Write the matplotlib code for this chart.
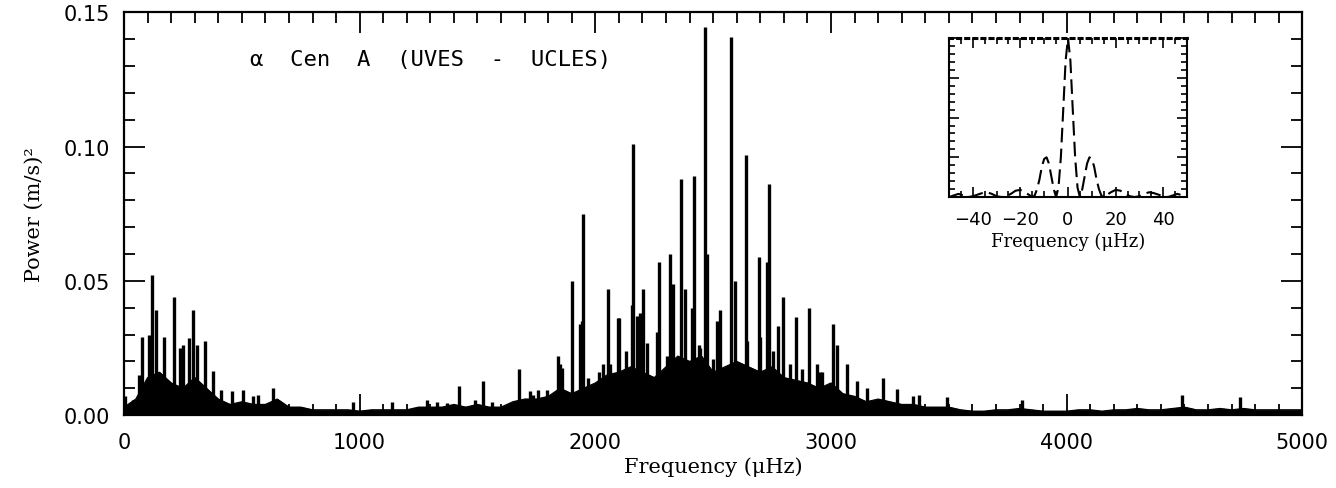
import numpy as np
import matplotlib
matplotlib.use("Agg")
import matplotlib.pyplot as plt
from matplotlib.ticker import MultipleLocator, FormatStrFormatter

# broad "grass" level of the power spectrum, one value every 50 uHz (0..5000)
grass_freq = np.arange(0, 5001, 50)
grass_power = [0.003, 0.006, 0.014, 0.016, 0.012, 0.010, 0.014, 0.010, 0.006, 0.004,
               0.005, 0.004, 0.004, 0.006, 0.003, 0.003, 0.002, 0.002, 0.002, 0.002,
               0.0015, 0.002, 0.002, 0.002, 0.002, 0.003, 0.003, 0.003, 0.004, 0.003,
               0.004, 0.003, 0.003, 0.005, 0.006, 0.006, 0.007, 0.010, 0.008, 0.010,
               0.012, 0.015, 0.016, 0.018, 0.016, 0.014, 0.018, 0.022, 0.020, 0.022,
               0.016, 0.018, 0.020, 0.018, 0.016, 0.018, 0.014, 0.013, 0.012, 0.010,
               0.012, 0.008, 0.007, 0.005, 0.006, 0.005, 0.004, 0.004, 0.003, 0.003,
               0.003, 0.002, 0.0015, 0.0015, 0.002, 0.002, 0.0025, 0.002, 0.0015, 0.0015,
               0.0015, 0.002, 0.002, 0.0015, 0.002, 0.002, 0.0025, 0.002, 0.002, 0.0025,
               0.003, 0.002, 0.002, 0.0025, 0.002, 0.0025, 0.002, 0.002, 0.002, 0.002,
               0.002]

# individual spikes (uHz, (m/s)^2)
peak_freq = [4, 38, 64, 76, 106, 119, 136, 170, 212, 238, 250, 276, 293, 310, 344,
             378, 412, 458, 505, 548, 569, 632, 973, 1137, 1285, 1328, 1371, 1422,
             1490, 1524, 1562, 1676, 1723, 1736, 1757, 1795, 1842, 1850, 1859, 1901,
             1935, 1944, 1948, 1970, 2007, 2016, 2033, 2054, 2063, 2097, 2101, 2131,
             2156, 2161, 2177, 2190, 2203, 2220, 2262, 2271, 2305, 2318, 2330, 2364,
             2381, 2411, 2419, 2440, 2445, 2466, 2475, 2500, 2517, 2530, 2576, 2593,
             2640, 2644, 2695, 2699, 2729, 2738, 2755, 2776, 2797, 2827, 2852, 2878,
             2907, 2941, 2954, 2963, 3009, 3026, 3069, 3111, 3154, 3222, 3281, 3349,
             3374, 3493, 3811, 4491, 4737]
peak_power = [0.007, 0.0055, 0.015, 0.029, 0.030, 0.052, 0.039, 0.029, 0.044, 0.025,
              0.026, 0.0287, 0.039, 0.026, 0.0276, 0.0165, 0.0093, 0.009, 0.0093, 0.007,
              0.0075, 0.010, 0.005, 0.005, 0.0055, 0.005, 0.0045, 0.011, 0.0055, 0.0127,
              0.005, 0.017, 0.009, 0.0075, 0.0093, 0.0093, 0.022, 0.019, 0.0175, 0.050,
              0.034, 0.035, 0.0747, 0.014, 0.010, 0.016, 0.019, 0.047, 0.019, 0.036,
              0.036, 0.024, 0.041, 0.101, 0.037, 0.038, 0.047, 0.027, 0.031, 0.057,
              0.022, 0.060, 0.049, 0.088, 0.047, 0.040, 0.089, 0.026, 0.025, 0.1444,
              0.060, 0.021, 0.035, 0.039, 0.1407, 0.050, 0.097, 0.0276, 0.059, 0.029,
              0.057, 0.086, 0.024, 0.033, 0.044, 0.019, 0.0366, 0.017, 0.040, 0.019,
              0.016, 0.016, 0.034, 0.026, 0.019, 0.0127, 0.010, 0.014, 0.0098, 0.007,
              0.0075, 0.0067, 0.0056, 0.0075, 0.0067]

# spectral window (inset), normalised
win_freq = [-50, -48, -46, -44, -42, -40, -38, -36, -34, -32, -30, -28, -26, -24, -22,
            -20, -18, -16, -15, -14, -13, -12, -11, -10, -9, -8, -7, -6, -5, -4, -3,
            -2, -1, 0, 1, 2, 3, 4, 5, 6, 7, 8, 9, 10, 11, 12, 13, 14, 15, 16, 18, 20,
            22, 24, 26, 28, 30, 32, 34, 36, 38, 40, 42, 44, 46, 48, 50]
win_power = [0.0, 0.01, 0.02, 0.01, 0.0, 0.005, 0.015, 0.025, 0.03, 0.02, 0.005, 0.0,
             0.005, 0.02, 0.04, 0.045, 0.03, 0.01, 0.0, 0.01, 0.05, 0.11, 0.19, 0.24,
             0.25, 0.21, 0.13, 0.05, 0.0, 0.06, 0.25, 0.55, 0.86, 1.0, 0.86, 0.55, 0.25,
             0.06, 0.0, 0.05, 0.13, 0.21, 0.25, 0.24, 0.19, 0.11, 0.05, 0.01, 0.0, 0.01,
             0.03, 0.045, 0.04, 0.02, 0.005, 0.0, 0.005, 0.02, 0.03, 0.025, 0.015, 0.005,
             0.0, 0.01, 0.02, 0.01, 0.0]

plt.rcParams['font.family'] = 'DejaVu Sans'
fig = plt.figure(figsize=(13.36, 4.89), dpi=100)
ax = fig.add_axes([0.0928, 0.149, 0.882, 0.824])

ax.fill_between(grass_freq, 0, grass_power, color='black', lw=0.8)
ax.plot(grass_freq, grass_power, color='black', lw=0.8)
ax.vlines(peak_freq, 0, peak_power, color='black', lw=2.4)

ax.set_xlim(0, 5000)
ax.set_ylim(0, 0.15)
ax.xaxis.set_major_locator(MultipleLocator(1000))
ax.xaxis.set_minor_locator(MultipleLocator(100))
ax.yaxis.set_major_locator(MultipleLocator(0.05))
ax.yaxis.set_minor_locator(MultipleLocator(0.01))
ax.yaxis.set_major_formatter(FormatStrFormatter('%.2f'))
ax.tick_params(which='both', direction='in', top=True, right=True, width=1.3,
               labelsize=15)
ax.tick_params(axis='x', pad=12)
ax.tick_params(axis='y', pad=10)
ax.tick_params(which='major', length=15)
ax.tick_params(which='minor', length=8)
for s in ax.spines.values():
    s.set_linewidth(1.6)

ax.set_xlabel('Frequency (\u03bcHz)', family='DejaVu Serif', fontsize=15, labelpad=3)
ax.set_ylabel('Power (m/s)\u00b2', family='DejaVu Serif', fontsize=15, labelpad=14)
ax.text(535, 0.1325, '\u03b1  Cen  A  (UVES  -  UCLES)', family='DejaVu Sans Mono',
        fontsize=16, va='center', ha='left')

# inset: spectral window
ins = fig.add_axes([0.7103, 0.595, 0.1782, 0.325])
ins.plot(win_freq, win_power, color='black', lw=1.5, ls=(0, (7, 3)))
ins.set_xlim(-50, 50)
ins.set_ylim(0, 1.0)
ins.xaxis.set_major_locator(MultipleLocator(20))
ins.xaxis.set_minor_locator(MultipleLocator(5))
ins.yaxis.set_major_locator(MultipleLocator(0.25))
ins.yaxis.set_minor_locator(MultipleLocator(0.05))
ins.set_yticklabels([])
ins.tick_params(which='both', direction='in', top=True, right=True, width=1.2,
                labelsize=13, pad=9)
ins.tick_params(which='major', length=7)
ins.tick_params(which='minor', length=4)
for s in ins.spines.values():
    s.set_linewidth(1.5)
ins.spines['top'].set_linestyle(':')
ins.spines['top'].set_linewidth(2.2)
ins.set_xlabel('Frequency (\u03bcHz)', family='DejaVu Serif', fontsize=13, labelpad=3)

fig.savefig('out.png', dpi=100)
